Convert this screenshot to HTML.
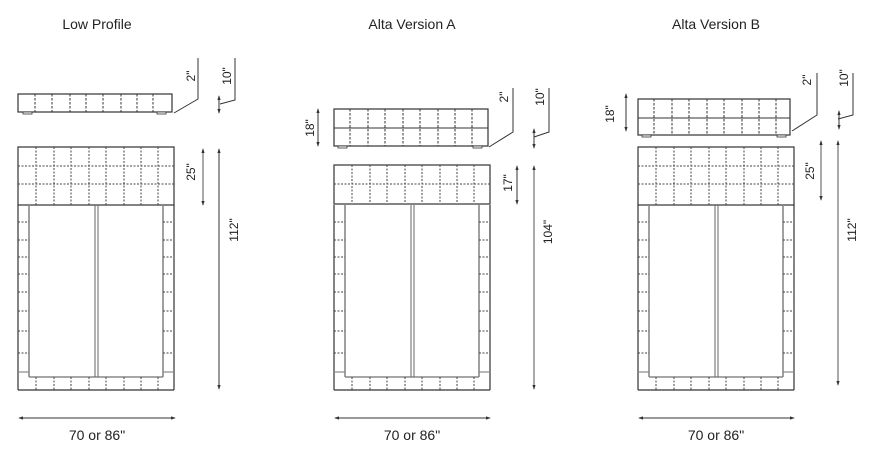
<!DOCTYPE html>
<html><head><meta charset="utf-8"><style>
html,body{margin:0;padding:0;background:#fff;width:878px;height:461px;overflow:hidden}
svg{display:block}
text{font-family:"Liberation Sans",sans-serif;fill:#222}
</style></head><body>
<svg width="878" height="461" viewBox="0 0 878 461" xmlns="http://www.w3.org/2000/svg">
<defs>
<marker id="ar" viewBox="0 0 6 6" refX="5" refY="3" markerWidth="5" markerHeight="5" orient="auto-start-reverse"><path d="M0,1 L6,3 L0,5z" fill="#333"/></marker>
<g id="body">
  <!-- rails & mattress (relative to x=0, width 156) -->
  <line x1="0" y1="205" x2="0" y2="390" stroke="#333" stroke-width="1.2"/>
  <line x1="156" y1="205" x2="156" y2="390" stroke="#333" stroke-width="1.2"/>
  <line x1="0" y1="390" x2="156" y2="390" stroke="#333" stroke-width="1.2"/>
  <line x1="11" y1="205" x2="11" y2="377" stroke="#888" stroke-width="1.6"/>
  <line x1="145" y1="205" x2="145" y2="377" stroke="#888" stroke-width="1.6"/>
  <line x1="11" y1="377" x2="145" y2="377" stroke="#888" stroke-width="1.6"/>
  <line x1="0" y1="372" x2="11" y2="372" stroke="#888" stroke-width="1.2"/>
  <line x1="145" y1="372" x2="156" y2="372" stroke="#888" stroke-width="1.2"/>
  <line x1="77" y1="205" x2="77" y2="377" stroke="#666" stroke-width="1"/>
  <line x1="80" y1="205" x2="80" y2="377" stroke="#666" stroke-width="1"/>
  <g stroke="#444" stroke-width="1" stroke-dasharray="2,1.5">
    <path d="M0,222H11M0,240H11M0,257H11M0,274H11M0,292H11M0,311H11M0,331H11M0,353H11"/>
    <path d="M145,222H156M145,240H156M145,257H156M145,274H156M145,292H156M145,311H156M145,331H156M145,353H156"/>
    <path d="M18,377V390M36,377V390M53,377V390M71,377V390M88,377V390M106,377V390M123,377V390M140,377V390"/>
  </g>
</g>
</defs>

<!-- Titles -->
<text x="97" y="29" font-size="14" text-anchor="middle">Low Profile</text>
<text x="412" y="29" font-size="14" text-anchor="middle">Alta Version A</text>
<text x="716" y="29" font-size="14" text-anchor="middle">Alta Version B</text>

<!-- ========== Panel 1 ========== -->
<!-- side view -->
<rect x="18" y="94" width="154" height="18" fill="none" stroke="#333" stroke-width="1.2"/>
<path d="M35,94V112M52,94V112M70,94V112M86,94V112M103,94V112M121,94V112M137,94V112M153,94V112" stroke="#333" stroke-dasharray="2.5,1.5"/>
<rect x="23" y="112" width="9" height="2" fill="#fff" stroke="#333" stroke-width="0.8"/>
<rect x="157" y="112" width="9" height="2" fill="#fff" stroke="#333" stroke-width="0.8"/>
<polyline points="174,113 198,99 198,58" fill="none" stroke="#333"/>
<polyline points="235,58 235,100 220,104" fill="none" stroke="#333"/>
<line x1="219" y1="96" x2="219" y2="113" stroke="#333" marker-start="url(#ar)" marker-end="url(#ar)"/>
<text transform="translate(195,76) rotate(-90)" font-size="12" text-anchor="middle">2"</text>
<text transform="translate(231,76) rotate(-90)" font-size="12" text-anchor="middle">10"</text>
<!-- top view -->
<rect x="18" y="147" width="156" height="58" fill="none" stroke="#333" stroke-width="1.2"/>
<path d="M18,166H174M18,184H174M36,147V205M54,147V205M71,147V205M89,147V205M106,147V205M124,147V205M141,147V205M158,147V205" stroke="#444" stroke-dasharray="2,1.5"/>
<use href="#body" x="18"/>
<line x1="203" y1="149" x2="203" y2="205" stroke="#555" marker-start="url(#ar)" marker-end="url(#ar)"/>
<line x1="219" y1="149" x2="219" y2="389" stroke="#333" marker-start="url(#ar)" marker-end="url(#ar)"/>
<text transform="translate(195,172) rotate(-90)" font-size="12" text-anchor="middle">25"</text>
<text transform="translate(238,230) rotate(-90)" font-size="12" text-anchor="middle">112"</text>
<line x1="19" y1="418" x2="175" y2="418" stroke="#333" marker-start="url(#ar)" marker-end="url(#ar)"/>
<text x="97" y="440" font-size="14" text-anchor="middle">70 or 86"</text>

<!-- ========== Panel 2 ========== -->
<rect x="334" y="109" width="154" height="37" fill="none" stroke="#333" stroke-width="1.2"/>
<line x1="334" y1="128" x2="488" y2="128" stroke="#333"/>
<path d="M350,109V146M368,109V146M385,109V146M403,109V146M420,109V146M438,109V146M455,109V146M472,109V146" stroke="#333" stroke-dasharray="2.5,1.5"/>
<rect x="338" y="146" width="9" height="2" fill="#fff" stroke="#333" stroke-width="0.8"/>
<rect x="473" y="146" width="9" height="2" fill="#fff" stroke="#333" stroke-width="0.8"/>
<polyline points="489,147 513,132 513,88" fill="none" stroke="#333"/>
<polyline points="549,88 549,132 534,137" fill="none" stroke="#333"/>
<line x1="534" y1="129" x2="534" y2="148" stroke="#333" marker-start="url(#ar)" marker-end="url(#ar)"/>
<line x1="318" y1="109" x2="318" y2="146" stroke="#333" marker-start="url(#ar)" marker-end="url(#ar)"/>
<text transform="translate(508,97) rotate(-90)" font-size="12" text-anchor="middle">2"</text>
<text transform="translate(544,97) rotate(-90)" font-size="12" text-anchor="middle">10"</text>
<text transform="translate(314,128) rotate(-90)" font-size="12" text-anchor="middle">18"</text>
<rect x="334" y="165" width="156" height="39" fill="none" stroke="#333" stroke-width="1.2"/>
<path d="M334,184H490M352,165V204M370,165V204M387,165V204M405,165V204M422,165V204M440,165V204M457,165V204M474,165V204" stroke="#444" stroke-dasharray="2,1.5"/>
<use href="#body" x="334"/>
<line x1="517" y1="166" x2="517" y2="204" stroke="#333" marker-start="url(#ar)" marker-end="url(#ar)"/>
<line x1="534" y1="166" x2="534" y2="389" stroke="#555" marker-start="url(#ar)" marker-end="url(#ar)"/>
<text transform="translate(512,183) rotate(-90)" font-size="12" text-anchor="middle">17"</text>
<text transform="translate(552,232) rotate(-90)" font-size="12" text-anchor="middle">104"</text>
<line x1="335" y1="418" x2="490" y2="418" stroke="#333" marker-start="url(#ar)" marker-end="url(#ar)"/>
<text x="412" y="440" font-size="14" text-anchor="middle">70 or 86"</text>

<!-- ========== Panel 3 ========== -->
<rect x="638" y="99" width="152" height="36" fill="none" stroke="#333" stroke-width="1.2"/>
<line x1="638" y1="118" x2="790" y2="118" stroke="#333"/>
<path d="M654,99V135M672,99V135M689,99V135M707,99V135M724,99V135M742,99V135M759,99V135M776,99V135" stroke="#333" stroke-dasharray="2.5,1.5"/>
<rect x="642" y="135" width="9" height="2" fill="#fff" stroke="#333" stroke-width="0.8"/>
<rect x="777" y="135" width="9" height="2" fill="#fff" stroke="#333" stroke-width="0.8"/>
<polyline points="792,131 817,115 817,73" fill="none" stroke="#333"/>
<polyline points="853,73 853,115 838,119" fill="none" stroke="#333"/>
<line x1="839" y1="111" x2="839" y2="129" stroke="#333" marker-start="url(#ar)" marker-end="url(#ar)"/>
<line x1="626" y1="94" x2="626" y2="131" stroke="#333" marker-start="url(#ar)" marker-end="url(#ar)"/>
<text transform="translate(811,80) rotate(-90)" font-size="12" text-anchor="middle">2"</text>
<text transform="translate(848,78) rotate(-90)" font-size="12" text-anchor="middle">10"</text>
<text transform="translate(614,114) rotate(-90)" font-size="12" text-anchor="middle">18"</text>
<rect x="638" y="147" width="156" height="58" fill="none" stroke="#333" stroke-width="1.2"/>
<path d="M638,166H794M638,184H794M656,147V205M674,147V205M691,147V205M709,147V205M726,147V205M744,147V205M761,147V205M778,147V205" stroke="#444" stroke-dasharray="2,1.5"/>
<use href="#body" x="638"/>
<line x1="821" y1="141" x2="821" y2="200" stroke="#555" marker-start="url(#ar)" marker-end="url(#ar)"/>
<line x1="838" y1="141" x2="838" y2="385" stroke="#555" marker-start="url(#ar)" marker-end="url(#ar)"/>
<text transform="translate(814,171) rotate(-90)" font-size="12" text-anchor="middle">25"</text>
<text transform="translate(856,230) rotate(-90)" font-size="12" text-anchor="middle">112"</text>
<line x1="639" y1="418" x2="794" y2="418" stroke="#333" marker-start="url(#ar)" marker-end="url(#ar)"/>
<text x="716" y="440" font-size="14" text-anchor="middle">70 or 86"</text>
</svg>
</body></html>
